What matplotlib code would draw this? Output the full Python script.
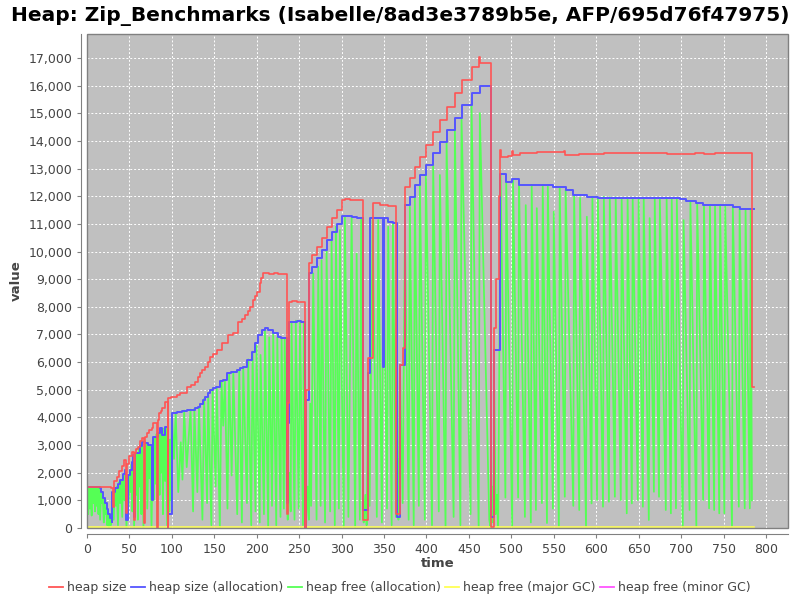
import numpy as np
import matplotlib
matplotlib.use('Agg')
import matplotlib.pyplot as plt
from matplotlib.ticker import MultipleLocator, FuncFormatter
from matplotlib.patches import Rectangle

TITLE = "Heap: Zip_Benchmarks (Isabelle/8ad3e3789b5e, AFP/695d76f47975)"

# heap size (step points)
red_t = [0, 14, 16, 28, 30.6, 31.5, 35, 38, 41, 44, 46.5, 47.5, 50, 52.6, 55.7, 56.5, 58, 60.4,
         62.5, 64.4, 67.5, 68.5, 70.3, 73, 76.2, 78.1, 82.1, 83.5, 84.8, 87, 88.7, 91.5, 95, 96,
         98.9, 105.7, 110, 117.8, 122, 127.2, 131, 133.1, 136, 139, 142, 144.9, 149, 153.1, 159,
         166.1, 172, 177.9, 183, 186.1, 190, 192, 195.5, 198, 200.2, 203.8, 205.5, 207.3, 215,
         220, 225, 235.6, 236.5, 238, 241, 248, 256.8, 258.5, 261.5, 265, 270.6, 276.4, 282.3,
         288.2, 294.1, 300, 303.9, 310, 318, 325.5, 331, 336.5, 345, 355, 364.5, 368.7, 372.6,
         374.6, 380.4, 386.3, 392.2, 399.3, 407.6, 415.8, 424, 433.5, 441.7, 453.5, 461.7, 463,
         475.5, 479.5, 482.5, 485, 487, 488, 496, 501, 502, 510, 530, 560, 562, 563, 573, 580,
         609, 683, 716, 727, 733, 740, 783.6, 786]
red_v = [1490, 1470, 1500, 1460, 770, 1700, 1850, 2050, 2250, 2460, 540, 2300, 2600, 2760, 290,
         2700, 2850, 2940, 3150, 3260, 180, 3300, 3440, 3550, 3620, 3800, 0, 3900, 4160, 4250,
         4340, 4570, 0, 4700, 4750, 4810, 4900, 5110, 5170, 5280, 5450, 5600, 5700, 5830, 6000,
         6190, 6300, 6440, 6690, 6980, 7050, 7450, 7550, 7700, 7850, 8000, 8250, 8400, 8540, 8860,
         9050, 9220, 9200, 9230, 9200, 500, 4520, 8180, 8220, 8190, 0, 4990, 9580, 9870, 10160,
         10490, 10890, 11210, 11500, 11860, 11890, 11870, 11850, 300, 6150, 11750, 11700, 11650,
         500, 5900, 6510, 12330, 12660, 13060, 13420, 13850, 14320, 14760, 15230, 15730, 16200,
         16670, 17040, 16820, 50, 7220, 9000, 12000, 13670, 13420, 13470, 13650, 13500, 13550,
         13600, 13600, 13650, 13500, 13510, 13530, 13575, 13530, 13560, 13540, 13520, 13550,
         5110, 5110]

# heap size (allocation) (step points)
blue_t = [0, 15, 17, 19, 21, 23, 25, 27, 29, 30, 33, 36, 39, 42, 44.8, 46.5, 48, 50.6, 53, 54.2,
          55.7, 56.5, 60, 62.5, 64.4, 68, 71.8, 76.2, 78, 84, 86, 88, 91.9, 95, 99.8, 105.7, 112,
          117.4, 127.2, 130.7, 133.5, 136.6, 139.5, 142.5, 145, 148.4, 152, 156.7, 160, 164.5,
          170, 176.3, 180, 183.7, 188.1, 194, 197.9, 201.4, 205.8, 209.7, 213.2, 219.1, 225, 229,
          233.2, 235.6, 236.5, 238.5, 247, 252, 256.8, 258.5, 261.5, 265, 270.6, 276.4, 282.3,
          288.2, 294.1, 300, 303.9, 311.8, 318, 325.5, 331, 334, 348.6, 349.5, 354.5, 360, 364.8,
          368.7, 374.6, 380.4, 386.3, 392.2, 399.3, 407.9, 415.8, 423.7, 433.5, 441.3, 453.1,
          462.9, 475.5, 479.5, 487, 493.5, 495, 500.2, 509.2, 549.2, 565, 572.8, 588.6, 602.2,
          659, 698.5, 706.4, 718, 726, 749.5, 761, 769, 786]
blue_v = [1490, 1450, 1300, 1100, 900, 700, 500, 350, 230, 1310, 1450, 1600, 1750, 1950, 2100,
          300, 1900, 2100, 2400, 2640, 400, 2710, 2710, 2950, 3120, 3070, 3000, 1000, 3300, 3440,
          3620, 3360, 3650, 500, 4160, 4200, 4230, 4270, 4340, 4390, 4500, 4630, 4750, 4880, 4980,
          5060, 5110, 5300, 5350, 5600, 5650, 5720, 5790, 5830, 6080, 6380, 6690, 6980, 7160, 7250,
          7160, 7050, 6920, 6880, 6870, 900, 3800, 7460, 7500, 7460, 0, 4630, 9220, 9450, 9760,
          10050, 10420, 10720, 11000, 11300, 11300, 11260, 11210, 650, 5600, 11210, 5830, 11210,
          11080, 11040, 400, 5900, 11680, 11980, 12400, 12770, 13130, 13550, 13970, 14400, 14830,
          15300, 15720, 15990, 400, 6440, 12790, 12530, 12530, 12610, 12400, 12350, 12230, 12040,
          11980, 11940, 11920, 11900, 11840, 11740, 11680, 11680, 11620, 11540, 11540]

# heap free (allocation)
green_t = [0, 1.5, 2.2, 3.5, 4.2, 5.5, 6.2, 7.5, 8.2, 9.5, 10.2, 11.5, 12.2, 13.5, 14.2, 15.5,
           16.5, 17.8, 18.5, 19.8, 20.5, 21.8, 22.5, 23.8, 24.5, 25.8, 27, 28, 29,
           30, 31.5, 32.5, 34, 35, 36.5, 37.5, 39, 40, 41.5, 42.5, 44, 45, 46.5, 48, 49, 50.5,
           51.5, 52.5, 53.5, 54.5, 55.5, 57, 58, 59, 60, 61, 62, 63, 64, 65, 66.5, 68, 69, 70, 71,
           72.5, 73.5, 74.5, 76, 77.5, 78.5, 79.5, 81, 82, 83, 84.5, 85.5, 86.5, 87.5, 88.5, 89.5,
           90.5, 92, 93, 94.5, 96, 97, 98, 99,
           100, 102.5, 104.5, 107.5, 110.5, 112.5, 114.5, 117.5, 122, 125, 126.5, 130, 132, 136,
           138, 141.5, 142.8, 146.5, 148, 151.5, 153, 156.5, 158.5, 160.5, 162.5, 165.5, 167.5,
           170.5, 172.4, 177, 179.4, 182.5, 184.1, 188.5, 190, 193.5, 195.1, 198.5, 199.8, 203.5,
           204.5, 208.5, 209.7, 213.5, 214.7, 218, 219.4, 223, 224.2, 228, 229.3, 232, 233, 235.6,
           236.5, 238.5, 240, 241, 244.5, 246, 249.5, 251, 254.5, 255.5, 256.8,
           258, 260, 261.5, 263, 264, 266.6, 270.5, 272.5, 275.3, 276.4, 280.5, 282.3, 286.5,
           288.2, 292, 293.3, 296.8, 298, 302.5, 303.9, 308, 311.8, 316, 317.7, 321.5, 323, 325.5,
           326, 328, 329.5, 331.5, 333, 336.5, 341.5, 343.1, 347.5, 349, 353.5, 354.9, 359, 360.5,
           364, 366, 367, 368.7, 372, 374.6, 379, 380.4, 385, 386.3, 391, 392.2, 398, 399.3,
           406.5, 407.9, 414.5, 415.8, 422.5, 423.7, 432, 433.5, 440, 441.3, 452, 453.1, 461.5,
           462.9, 474, 475.5,
           477, 478.5, 480, 481.5, 483, 484.5, 487.3, 493, 494, 501, 502, 508, 509, 516, 517, 523,
           524, 529, 530, 536, 537, 542, 543, 549, 550, 556, 557, 563, 564, 573, 574, 580, 581,
           588, 589, 594.5, 595.5, 601, 602, 608, 609, 615, 616, 622, 623, 629, 630, 636, 637,
           642, 643, 649, 650, 655, 656, 662, 663, 668, 669, 674, 675, 682, 683, 688, 689, 694,
           695, 702, 703, 710, 711, 718, 719, 726, 727, 733, 734, 739, 740, 745, 746, 751, 752,
           760, 761, 768, 769, 775, 776, 781, 782, 783.5]
green_v = [1450, 500, 1450, 700, 1450, 450, 1450, 900, 1450, 600, 1450, 800, 1450, 500, 1430, 300,
           1300, 900, 1100, 200, 900, 500, 700, 100, 500, 0, 350, 100, 230,
           1300, 300, 1400, 800, 1500, 100, 1650, 900, 1750, 400, 1900, 1000, 2100, 0, 1900, 800,
           2100, 1300, 2300, 600, 2600, 0, 2500, 1200, 2700, 300, 2900, 1500, 3000, 500, 3100, 0,
           3050, 1400, 3050, 700, 3000, 1800, 3000, 0, 2700, 1000, 3300, 1600, 3400, 0, 3440,
           1200, 3600, 2000, 3560, 500, 3600, 1700, 3650, 100, 3000, 600, 3200, 1000,
           4150, 2500, 4180, 1300, 3100, 1750, 4250, 2200, 4280, 600, 4320, 1300, 4390, 300, 4680,
           900, 4880, 100, 5050, 1500, 5100, 0, 5300, 3700, 5350, 700, 5600, 1900, 5650, 500,
           5720, 200, 5830, 900, 6100, 100, 6380, 600, 6600, 200, 6260, 500, 7200, 0, 6900, 800,
           7050, 100, 6900, 400, 6880, 700, 6870, 900,
           300, 2000, 600, 7460, 300, 7500, 700, 7460, 100, 7430, 0,
           0, 1500, 300, 4500, 800, 9210, 300, 9450, 800, 9690, 200, 10050, 600, 10420, 100,
           10900, 700, 10780, 0, 11260, 400, 11260, 0, 9930, 300, 11210, 650,
           200, 1200, 100, 5600, 800, 11140, 400, 11140, 200, 11140, 700, 10900, 100, 11000,
           400, 2500, 300, 5900, 900, 11000, 300, 11620, 100, 11980, 800, 12480, 300, 12900,
           100, 13130, 600, 12770, 0, 13970, 400, 14400, 100, 14830, 500, 15300, 0, 15010, 300, 0,
           1500, 200, 5000, 500, 1200, 0, 12790, 1100, 12500, 50, 12600, 1100, 12550, 400, 11680,
           200, 12400, 650, 11570, 900, 12380, 180, 12350, 700, 11440, 50, 12330, 1130, 12230,
           800, 12040, 650, 11940, 50, 11260, 890, 11980, 1010, 11940, 770, 11980, 950, 11970,
           1130, 11960, 1010, 11950, 530, 11950, 890, 11930, 1010, 11920, 770, 11920, 290, 11210,
           1310, 11910, 1130, 11910, 650, 11900, 530, 11900, 710, 11900, 50, 11140, 650, 11800,
           50, 11740, 1010, 11680, 710, 11680, 650, 11680, 530, 11660, 530, 11620, 50, 11600,
           770, 11540, 710, 11540, 710, 11540, 1000]

# heap free (major GC)
yellow_t = [0, 786]
yellow_v = [40, 40]

# heap free (minor GC), short visible pieces
magenta_t = [236.5, 238, np.nan, 331, 334, np.nan, 368.7, 372.6, np.nan, 479.5, 486]
magenta_v = [3800, 3800, np.nan, 5600, 5600, np.nan, 5900, 5900, np.nan, 6440, 6440]

fig = plt.figure(figsize=(8, 6), dpi=100)
ax = fig.add_axes([0.10875, 0.12, 0.87625, 0.8233])
ax.set_facecolor("#c0c0c0")

# JFreeChart draws series 0 on top
ax.plot(magenta_t, magenta_v, color="#ff55ff", lw=1.2, zorder=2, label="heap free (minor GC)")
ax.plot(green_t, green_v, color="#55ff55", lw=1.25, zorder=3, label="heap free (allocation)")
ax.plot(yellow_t, yellow_v, color="#ffff55", lw=1.2, zorder=4, label="heap free (major GC)")
ax.plot(blue_t, blue_v, color="#5555ff", lw=1.4, zorder=5, drawstyle="steps-post",
        label="heap size (allocation)")
ax.plot(red_t, red_v, color="#ff5555", lw=1.2, zorder=6, drawstyle="steps-post",
        label="heap size")

ax.set_xlim(0, 826)
ax.set_ylim(0, 17870)
ax.xaxis.set_major_locator(MultipleLocator(50))
ax.yaxis.set_major_locator(MultipleLocator(1000))
ax.yaxis.set_major_formatter(FuncFormatter(lambda v, p: f"{int(v):,}"))
ax.grid(True, color="white", linestyle=(0, (2, 2)), linewidth=0.7)
ax.set_axisbelow(True)

for s in ["top", "right"]:
    ax.spines[s].set_visible(False)
for s in ["left", "bottom"]:
    ax.spines[s].set_position(("outward", 4))
    ax.spines[s].set_color("#808080")
ax.add_patch(Rectangle((0, 0), 1, 1, transform=ax.transAxes, fill=False,
                       edgecolor="#808080", lw=1.0, zorder=10, clip_on=False))
ax.tick_params(colors="#808080", labelcolor="#444444", labelsize=9, length=3, width=0.8)

ax.set_xlabel("time", fontsize=9.5, fontweight="bold", color="#444444", labelpad=1)
ax.set_ylabel("value", fontsize=9.5, fontweight="bold", color="#444444", labelpad=4)
fig.suptitle(TITLE, fontsize=14.5, fontweight="bold", x=0.5, y=0.99)

handles, labels = ax.get_legend_handles_labels()
by_label = dict(zip(labels, handles))
leg_order = ["heap size", "heap size (allocation)", "heap free (allocation)",
             "heap free (major GC)", "heap free (minor GC)"]
leg = fig.legend([by_label[k] for k in leg_order], leg_order, loc="center",
                 bbox_to_anchor=(0.5, 0.021), ncol=5, frameon=False, fontsize=9,
                 handlelength=1.1, handletextpad=0.35, columnspacing=0.35,
                 labelcolor="#444444")
for line in leg.get_lines():
    line.set_linewidth(1.3)

fig.savefig("out.png", dpi=100)
